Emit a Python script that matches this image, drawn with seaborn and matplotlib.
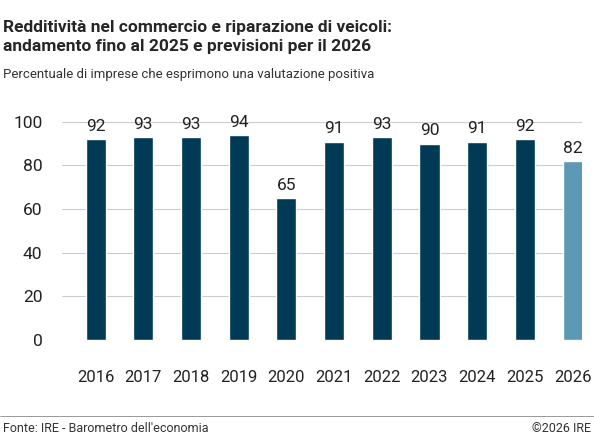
import matplotlib.pyplot as plt
import pandas as pd
import seaborn as sns

years = ['2016', '2017', '2018', '2019', '2020', '2021', '2022', '2023', '2024', '2025', '2026']
values = [92, 93, 93, 94, 65, 91, 93, 90, 91, 92, 82]
kind = ['storico'] * 10 + ['previsione']

df = pd.DataFrame({'anno': years, 'valore': values, 'tipo': kind})

sns.set_theme(style="white")
plt.rcParams['font.family'] = ['Roboto', 'DejaVu Sans']

fig = plt.figure(figsize=(5.94, 4.38), dpi=100)
ax = fig.add_axes([0.104, 0.224, 0.876, 0.4977])

sns.barplot(data=df, x='anno', y='valore', hue='tipo',
            palette={'storico': '#013a55', 'previsione': '#5b99b4'},
            saturation=1, width=0.42, dodge=False, legend=False, ax=ax, zorder=3)

for i, v in enumerate(values):
    ax.text(i, v + 2.5, str(v), ha='center', va='bottom', fontsize=12.5, color='#222222')

ax.set_ylim(0, 100)
ax.set_xlim(-0.71, 10.2)
ax.set_yticks(range(0, 101, 20))
ax.grid(axis='y', color='#cccccc', linewidth=0.8, zorder=0)
ax.tick_params(axis='y', labelsize=12.5, length=0, pad=14, colors='#222222')
ax.tick_params(axis='x', labelsize=12, length=0, pad=22, colors='#222222')
ax.set_xlabel('')
ax.set_ylabel('')
for s in ax.spines.values():
    s.set_visible(False)

fig.text(0.005, 0.955, 'Redditività nel commercio e riparazione di veicoli:\nandamento fino al 2025 e previsioni per il 2026',
         fontsize=12.5, fontweight='bold', va='top', ha='left', linespacing=1.35)
fig.text(0.005, 0.845, 'Percentuale di imprese che esprimono una valutazione positiva',
         fontsize=9.5, va='top', ha='left', color='#333333')

fig.add_artist(plt.Line2D([0, 1], [0.05, 0.05], color='#888888', linewidth=0.6, transform=fig.transFigure))
fig.text(0.005, 0.022, "Fonte: IRE - Barometro dell'economia", fontsize=9, va='center', ha='left', color='#333333')
fig.text(0.995, 0.022, '©2026 IRE', fontsize=9, va='center', ha='right', color='#333333')

fig.savefig('out.png', dpi=100)
